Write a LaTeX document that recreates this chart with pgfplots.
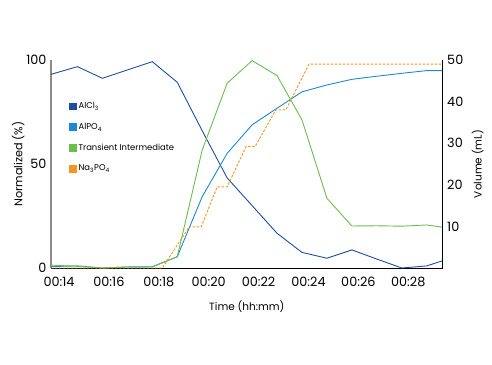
\documentclass[border=0pt]{standalone}
\usepackage{pgfplots}
\pgfplotsset{compat=1.18}
\usepackage{fontspec}
\setmainfont{Poppins}
\definecolor{cAlCl}{HTML}{1F4E9E}
\definecolor{cAlPO}{HTML}{1A8AD4}
\definecolor{cTI}{HTML}{6ABF4B}
\definecolor{cNa}{HTML}{F7941D}
\begin{document}
\begin{tikzpicture}
\path[use as bounding box] (0pt,0pt) rectangle (492pt,364pt);
\pgfplotsset{
  myax/.style={
    at={(51pt,96pt)}, anchor=south west,
    scale only axis, width=391.7pt, height=208pt,
    xmin=13.68, xmax=29.38,
    major tick length=0pt,
    tick label style={font=\fontsize{12.8}{14}\selectfont},
    /pgf/number format/assume math mode=true,
    clip=false,
  }
}
\begin{axis}[myax,
  ymin=0, ymax=100, ytick={0,50,100},
  axis x line*=bottom, axis y line*=left,
  every outer x axis line/.append style={-, black, line width=1pt},
  every outer y axis line/.append style={-, black!45, line width=1.4pt},
  xtick={14,16,18,20,22,24,26,28},
  xticklabels={00:14,00:16,00:18,00:20,00:22,00:24,00:26,00:28},
  xticklabel style={yshift=-6pt},
  yticklabel style={xshift=-1pt},
  xlabel={Time (hh:mm)}, ylabel={Normalized (\%)},
  xlabel style={font=\fontsize{10.5}{12}\selectfont, yshift=-7pt},
  ylabel style={font=\fontsize{11.2}{13}\selectfont, yshift=-5pt},
  legend style={at={(0.037,0.815)}, anchor=north west, draw=none, fill=none,
    font=\fontsize{8.4}{10}\selectfont, row sep=9pt},
  legend cell align=left,
  legend image code/.code={\fill[#1, solid] (0pt,-3pt) rectangle (7pt,3.5pt);},
]
\addplot[cAlCl, line width=0.9pt] coordinates {
(13.68,93.1)(14.74,96.8)(15.74,91.2)(16.74,95.2)(17.74,99.2)(18.74,89.3)(19.74,66)(20.74,43.3)(21.74,30)(22.74,16.7)(23.74,7.5)(24.74,4.7)(25.74,8.7)(26.74,4.3)(27.74,0)(28.74,1)(29.38,3.5)};
\addlegendentry{AlCl\textsubscript{3}}
\addplot[cAlPO, line width=0.9pt] coordinates {
(13.68,0.7)(14.74,1)(15.74,0)(16.74,0.5)(17.74,0.6)(18.74,5.4)(19.74,34.3)(20.74,55.1)(21.74,68.8)(22.74,76.8)(23.74,84.7)(24.74,88)(25.74,90.7)(26.74,92.2)(27.74,93.6)(28.74,94.9)(29.38,94.9)};
\addlegendentry{AlPO\textsubscript{4}}
\addplot[cTI, line width=0.9pt] coordinates {
(13.68,1.4)(14.74,0.8)(15.74,0)(16.74,0.5)(17.74,0.5)(18.74,5.4)(19.74,56.7)(20.74,88.8)(21.74,99.7)(22.74,92.5)(23.74,71.2)(24.74,33.5)(25.74,20.2)(26.74,20.3)(27.74,20.1)(28.74,20.7)(29.38,19.6)};
\addlegendentry{Transient Intermediate}
\addlegendimage{cNa}
\addlegendentry{Na\textsubscript{3}PO\textsubscript{4}}
\end{axis}
\begin{axis}[myax,
  ymin=0, ymax=50, ytick={10,20,30,40,50},
  axis x line=none, axis y line*=right,
  every outer y axis line/.append style={-, black, line width=1pt},
  yticklabel style={xshift=1pt},
  ylabel={Volume (mL)},
  ylabel style={font=\fontsize{10.5}{12}\selectfont, yshift=-1.5pt},
]
\addplot[cNa, line width=0.9pt, dash pattern=on 2.5pt off 1.5pt] coordinates {
(13.68,0)(18.14,0)(19.22,9.9)(19.70,9.9)(20.34,19.5)(20.74,19.5)(21.50,29.2)(21.86,29.2)(22.69,38)(23.09,38)(24.02,49)(29.38,49)};
\end{axis}
\end{tikzpicture}
\end{document}
